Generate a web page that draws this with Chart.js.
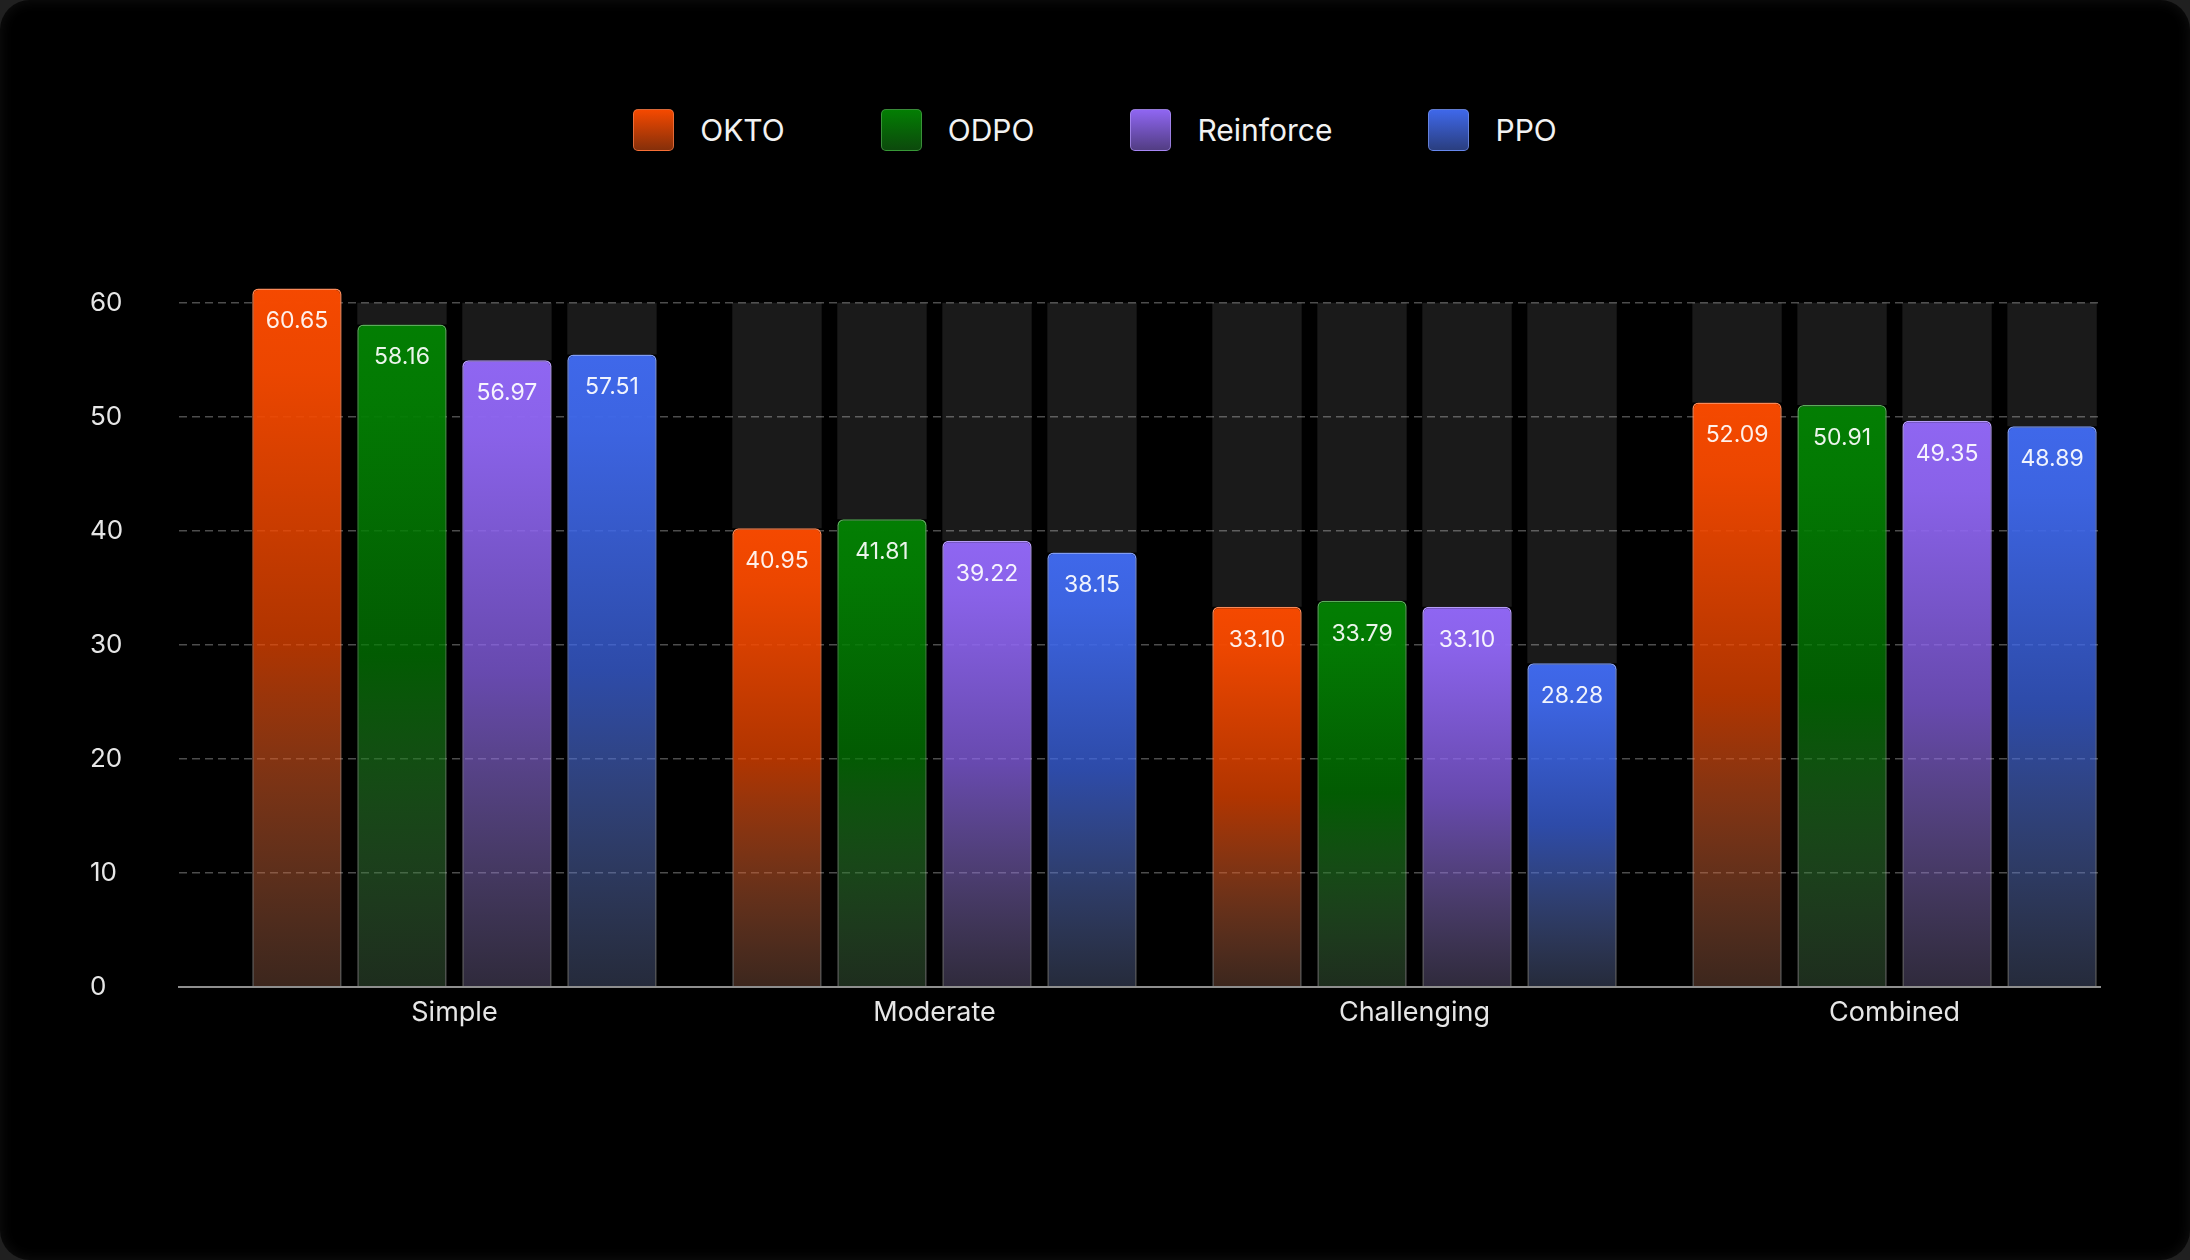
<!DOCTYPE html>
<html>
<head>
<meta charset="utf-8">
<script src="https://cdn.jsdelivr.net/npm/chart.js@4.4.1/dist/chart.umd.min.js"></script>
<style>
  html, body { margin: 0; padding: 0; width: 2190px; height: 1260px; background: #202020; overflow: hidden; font-family: Inter, 'Noto Sans', sans-serif; }
  .frame { position: absolute; left: 0; top: 0; width: 2190px; height: 1260px; border-radius: 30px; background: #000; box-shadow: inset 0 0 14px rgba(255,255,255,0.07); overflow: hidden; }
  .legend { position: absolute; left: 0; right: 0; top: 109px; display: flex; justify-content: center; gap: 96px; }
  .item { display: flex; align-items: center; height: 42px; }
  .swatch { width: 41px; height: 42px; border-radius: 5px; box-sizing: border-box; border: 1.5px solid; margin-right: 26px; }
  .item span { color: #f2f2f2; font-size: 30px; }
  canvas { position: absolute; left: 0; top: 0; }
</style>
</head>
<body>
<div class="frame">
  <div class="legend" id="legend"></div>
  <canvas id="chart" width="2190" height="1260"></canvas>
</div>
<script>
const categories = ['Simple', 'Moderate', 'Challenging', 'Combined'];
const seriesNames = ['OKTO', 'ODPO', 'Reinforce', 'PPO'];

// bar heights as they are drawn in the picture
const okto = [61.26, 40.21, 33.33, 51.26];
const odpo = [58.10, 41.00, 33.86, 51.03];
const reinforce = [54.95, 39.12, 33.33, 49.65];
const ppo = [55.47, 38.10, 28.37, 49.16];

// values printed on the bars
const oktoLabels = ['60.65', '40.95', '33.10', '52.09'];
const odpoLabels = ['58.16', '41.81', '33.79', '50.91'];
const reinforceLabels = ['56.97', '39.22', '33.10', '49.35'];
const ppoLabels = ['57.51', '38.15', '28.28', '48.89'];

// grey column behind every bar runs up to this value
const trackValue = 60;
const yTicks = [0, 10, 20, 30, 40, 50, 60];

const seriesValues = [okto, odpo, reinforce, ppo];
const seriesLabels = [oktoLabels, odpoLabels, reinforceLabels, ppoLabels];
const seriesRgb = [[245, 73, 0], [3, 126, 3], [143, 102, 242], [63, 104, 234]];

const rgba = (c, a) => `rgba(${c[0]},${c[1]},${c[2]},${a})`;
const mix = (c, d, t) => c.map((v, i) => Math.round(v * (1 - t) + d[i] * t));

// html legend
const legendEl = document.getElementById('legend');
seriesNames.forEach((name, i) => {
  const c = seriesRgb[i];
  const item = document.createElement('div');
  item.className = 'item';
  const sw = document.createElement('div');
  sw.className = 'swatch';
  sw.style.background = `linear-gradient(to bottom, ${rgba(c, 1)}, ${rgba(mix(c, [20, 20, 20], 0.5), 1)})`;
  sw.style.borderColor = rgba(mix(c, [255, 255, 255], 0.3), 0.7);
  const label = document.createElement('span');
  label.textContent = name;
  item.appendChild(sw);
  item.appendChild(label);
  legendEl.appendChild(item);
});

// category axis whose groups sit a bit right of centre, like the original
const leadSpace = 0.573, trailSpace = 0.428;
class OffsetCategoryScale extends Chart.CategoryScale {
  configure() {
    super.configure();
    this._startValue = this.min - leadSpace;
    this._valueRange = this.max - this.min + leadSpace + trailSpace;
  }
}
OffsetCategoryScale.id = 'offsetCategory';
OffsetCategoryScale.defaults = Chart.CategoryScale.defaults;
Chart.register(OffsetCategoryScale);

function barFill(c) {
  return (ctx) => {
    const chart = ctx.chart;
    const y = chart.scales.y;
    if (ctx.type !== 'data' || !chart.chartArea || !y) return rgba(c, 1);
    const top = y.getPixelForValue(ctx.parsed.y);
    const bottom = y.getPixelForValue(0);
    const g = chart.ctx.createLinearGradient(0, top, 0, bottom);
    g.addColorStop(0, rgba(c, 1));
    g.addColorStop(0.12, rgba(c, 0.96));
    g.addColorStop(0.5, rgba(c, 0.72));
    g.addColorStop(1, rgba(mix(c, [150, 150, 150], 0.6), 0.32));
    return g;
  };
}

function barBorder(c) {
  return (ctx) => {
    const chart = ctx.chart;
    const y = chart.scales.y;
    if (ctx.type !== 'data' || !chart.chartArea || !y) return rgba(c, 1);
    const top = y.getPixelForValue(ctx.parsed.y);
    const bottom = y.getPixelForValue(0);
    const g = chart.ctx.createLinearGradient(0, top, 0, bottom);
    g.addColorStop(0, rgba(mix(c, [255, 255, 255], 0.35), 1));
    g.addColorStop(0.4, rgba(mix(c, [255, 255, 255], 0.2), 0.8));
    g.addColorStop(1, 'rgba(200,200,200,0.45)');
    return g;
  };
}

const datasets = [];
seriesNames.forEach((name, s) => {
  datasets.push({
    label: name,
    data: seriesValues[s],
    valueLabels: seriesLabels[s],
    stack: 's' + s,
    backgroundColor: barFill(seriesRgb[s]),
    borderColor: barBorder(seriesRgb[s]),
    borderWidth: 1.5,
    borderRadius: { topLeft: 6, topRight: 6, bottomLeft: 0, bottomRight: 0 },
    order: 0
  });
});
seriesNames.forEach((name, s) => {
  datasets.push({
    label: name + ' track',
    data: seriesValues[s].map(v => Math.max(0, trackValue - v)),
    stack: 's' + s,
    backgroundColor: 'rgba(255,255,255,0.1)',
    borderWidth: 0,
    order: 1
  });
});

const valueLabelPlugin = {
  id: 'valueLabels',
  afterDatasetsDraw(chart) {
    const c = chart.ctx;
    c.save();
    c.font = '23px Inter';
    c.fillStyle = 'rgba(255,255,255,0.92)';
    c.textAlign = 'center';
    c.textBaseline = 'middle';
    chart.data.datasets.forEach((ds, di) => {
      if (!ds.valueLabels) return;
      chart.getDatasetMeta(di).data.forEach((bar, i) => {
        c.fillText(ds.valueLabels[i], bar.x, bar.y + 33);
      });
    });
    c.restore();
  }
};

Chart.defaults.font.family = 'Inter';

new Chart(document.getElementById('chart'), {
  type: 'bar',
  data: { labels: categories, datasets },
  plugins: [valueLabelPlugin],
  options: {
    responsive: false,
    devicePixelRatio: 1,
    animation: false,
    categoryPercentage: 0.875,
    barPercentage: 0.851,
    layout: { padding: { left: 90, right: 90, top: 280, bottom: 0 } },
    plugins: { legend: { display: false }, tooltip: { enabled: false } },
    scales: {
      x: {
        type: 'offsetCategory',
        afterFit: (scale) => { scale.height = 273.3; },
        grid: { display: false, drawTicks: false },
        border: { display: true, color: '#8e8e8e', width: 2 },
        ticks: {
          autoSkip: false,
          padding: 10,
          color: '#e6e6e6',
          font: { size: 27 }
        }
      },
      y: {
        stacked: true,
        min: 0,
        max: 62,
        afterBuildTicks: (scale) => { scale.ticks = yTicks.map(v => ({ value: v })); },
        afterFit: (scale) => { scale.width = 89.4; },
        grid: { color: 'rgba(255,255,255,0.3)', lineWidth: 1.5, drawTicks: false },
        border: { display: false, dash: [8, 5] },
        ticks: {
          crossAlign: 'far',
          color: '#e6e6e6',
          font: { size: 26 }
        }
      }
    }
  }
});
</script>
</body>
</html>
